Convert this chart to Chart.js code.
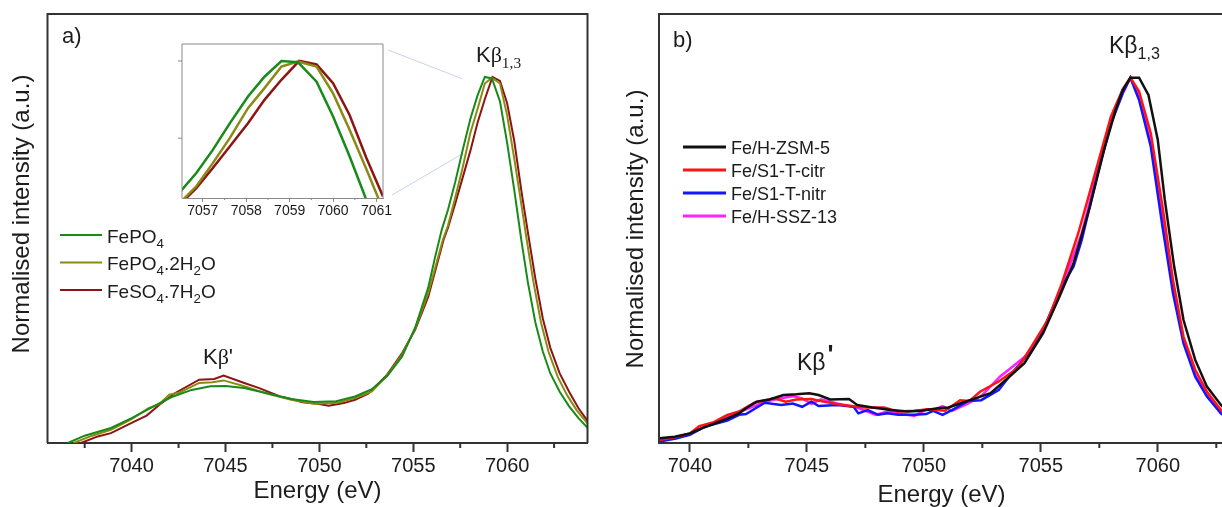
<!DOCTYPE html>
<html>
<head>
<meta charset="utf-8">
<script src="https://cdn.jsdelivr.net/npm/chart.js@4.4.0/dist/chart.umd.min.js"></script>
<style>
html, body { margin: 0; padding: 0; background: #fff; overflow: hidden; width: 1222px; height: 507px; }
canvas { position: absolute; }
#chartA { left: 0; top: 0; }
#inset { left: 150px; top: 30px; }
#chartB { left: 600px; top: 0; }
</style>
</head>
<body>
<canvas id="chartA" width="600" height="507"></canvas>
<canvas id="chartB" width="640" height="507"></canvas>
<canvas id="inset" width="250" height="200"></canvas>
<script>
// panel a: reference compounds
var namesA = ['FePO_4', 'FePO_4.2H_2O', 'FeSO_4.7H_2O'];
var colorsA = ['#178a17', '#8a8a14', '#8e1414'];

var fepo4E = [7036.6, 7037.5, 7038.9, 7040.0, 7041.1, 7042.1, 7043.2, 7044.2, 7045.0, 7046.0, 7047.2, 7048.5, 7049.7, 7050.9, 7051.9, 7052.8, 7053.6, 7054.4, 7055.1, 7055.8, 7056.15, 7056.52, 7056.85, 7057.23, 7057.62, 7058.04, 7058.42, 7058.81, 7059.19, 7059.62, 7060.0, 7060.38, 7060.75, 7061.1, 7061.5, 7061.9, 7062.3, 7062.8, 7063.3, 7063.8, 7064.3];
var fepo4I = [0.0, 0.02, 0.041, 0.068, 0.098, 0.125, 0.145, 0.155, 0.156, 0.15, 0.136, 0.12, 0.112, 0.114, 0.127, 0.147, 0.182, 0.236, 0.315, 0.425, 0.505, 0.583, 0.637, 0.712, 0.798, 0.885, 0.949, 1.0, 0.996, 0.933, 0.82, 0.691, 0.556, 0.44, 0.33, 0.25, 0.19, 0.14, 0.1, 0.068, 0.041];

var fepo4hE = [7036.9, 7037.9, 7038.9, 7040.0, 7040.9, 7041.5, 7042.0, 7042.55, 7043.6, 7044.3, 7044.9, 7046.0, 7047.2, 7048.5, 7049.7, 7050.9, 7051.9, 7052.8, 7053.6, 7054.4, 7055.1, 7055.8, 7056.58, 7056.85, 7057.23, 7057.62, 7058.04, 7058.42, 7058.81, 7059.19, 7059.62, 7060.0, 7060.38, 7060.77, 7061.04, 7061.4, 7061.8, 7062.2, 7062.7, 7063.2, 7063.7, 7064.3];
var fepo4hI = [0.0, 0.02, 0.036, 0.065, 0.095, 0.107, 0.132, 0.138, 0.164, 0.166, 0.171, 0.155, 0.135, 0.118, 0.107, 0.109, 0.123, 0.141, 0.184, 0.241, 0.312, 0.41, 0.556, 0.594, 0.669, 0.75, 0.847, 0.912, 0.982, 0.998, 0.982, 0.895, 0.777, 0.648, 0.556, 0.44, 0.33, 0.25, 0.18, 0.13, 0.09, 0.052];

var feso4E = [7037.3, 7038.2, 7038.9, 7040.0, 7040.8, 7041.5, 7042.3, 7043.6, 7044.4, 7044.9, 7046.0, 7046.8, 7047.9, 7048.5, 7049.1, 7049.9, 7050.5, 7051.3, 7051.9, 7052.6, 7053.6, 7054.4, 7055.1, 7055.8, 7056.62, 7056.85, 7057.23, 7057.62, 7058.04, 7058.42, 7058.81, 7059.22, 7059.62, 7060.0, 7060.38, 7060.77, 7061.15, 7061.5, 7061.9, 7062.3, 7062.8, 7063.3, 7063.8, 7064.3];
var feso4I = [0.0, 0.018, 0.027, 0.055, 0.075, 0.105, 0.136, 0.173, 0.175, 0.184, 0.164, 0.15, 0.127, 0.12, 0.111, 0.107, 0.102, 0.109, 0.118, 0.135, 0.186, 0.245, 0.309, 0.4, 0.556, 0.588, 0.653, 0.723, 0.798, 0.874, 0.939, 1.0, 0.989, 0.928, 0.825, 0.685, 0.561, 0.45, 0.34, 0.26, 0.19, 0.14, 0.095, 0.059];

// panel b: zeolite samples
var namesB = ['Fe/H-ZSM-5', 'Fe/S1-T-citr', 'Fe/S1-T-nitr', 'Fe/H-SSZ-13'];
var colorsB = ['#111111', '#ff1414', '#1414ff', '#ff22ff'];

var zsmE = [7038.7, 7039.35, 7040.0, 7040.5, 7041.1, 7041.6, 7042.1, 7042.4, 7042.85, 7043.4, 7044.0, 7044.55, 7045.1, 7045.5, 7046.0, 7046.8, 7047.15, 7047.8, 7048.6, 7049.3, 7049.9, 7050.6, 7051.05, 7051.55, 7052.2, 7052.85, 7053.5, 7054.3, 7055.1, 7055.8, 7056.4, 7057.1, 7057.7, 7058.2, 7058.5, 7058.83, 7059.2, 7059.6, 7060.0, 7060.3, 7060.7, 7061.1, 7061.6, 7062.1, 7062.7, 7063.0];
var zsmI = [0.013, 0.017, 0.026, 0.04, 0.054, 0.067, 0.081, 0.095, 0.113, 0.119, 0.131, 0.133, 0.136, 0.131, 0.119, 0.12, 0.104, 0.097, 0.09, 0.086, 0.088, 0.095, 0.097, 0.108, 0.122, 0.136, 0.172, 0.218, 0.3, 0.4, 0.491, 0.646, 0.8, 0.91, 0.964, 0.998, 0.998, 0.951, 0.828, 0.664, 0.482, 0.336, 0.227, 0.154, 0.104, 0.085];

var citrE = [7038.7, 7039.4, 7040.0, 7040.4, 7040.98, 7041.6, 7042.1, 7042.76, 7043.6, 7044.1, 7044.55, 7045.2, 7045.7, 7046.5, 7047.5, 7048.3, 7048.9, 7049.6, 7050.2, 7050.9, 7051.55, 7051.95, 7052.4, 7053.2, 7054.0, 7054.6, 7055.3, 7055.9, 7056.6, 7057.4, 7058.0, 7058.5, 7058.83, 7059.2, 7059.7, 7060.2, 7060.65, 7061.1, 7061.6, 7062.1, 7062.7, 7063.0];
var citrI = [0.008, 0.016, 0.026, 0.046, 0.056, 0.077, 0.086, 0.11, 0.122, 0.113, 0.119, 0.12, 0.113, 0.104, 0.097, 0.097, 0.086, 0.088, 0.092, 0.088, 0.117, 0.115, 0.14, 0.168, 0.204, 0.263, 0.336, 0.436, 0.573, 0.755, 0.892, 0.966, 0.998, 0.96, 0.846, 0.646, 0.445, 0.29, 0.2, 0.14, 0.09, 0.075];

var nitrE = [7038.7, 7039.4, 7040.0, 7040.65, 7041.6, 7042.1, 7042.4, 7043.2, 7043.9, 7044.4, 7044.8, 7045.2, 7045.5, 7046.3, 7047.0, 7047.2, 7047.6, 7048.05, 7048.45, 7048.9, 7049.6, 7050.1, 7050.4, 7050.8, 7051.2, 7051.9, 7052.45, 7053.2, 7053.7, 7054.3, 7055.1, 7055.9, 7056.4, 7056.75, 7057.4, 7058.0, 7058.5, 7058.83, 7059.2, 7059.7, 7060.2, 7060.65, 7061.1, 7061.6, 7062.1, 7062.7, 7063.0];
var nitrI = [0.004, 0.012, 0.022, 0.045, 0.061, 0.077, 0.079, 0.11, 0.104, 0.108, 0.099, 0.113, 0.101, 0.104, 0.099, 0.081, 0.09, 0.077, 0.081, 0.077, 0.077, 0.079, 0.088, 0.077, 0.09, 0.115, 0.117, 0.145, 0.186, 0.231, 0.309, 0.427, 0.482, 0.555, 0.728, 0.873, 0.955, 0.998, 0.937, 0.81, 0.591, 0.409, 0.272, 0.181, 0.127, 0.081, 0.068];

var sszE = [7038.7, 7039.4, 7040.0, 7041.0, 7041.8, 7042.6, 7043.25, 7043.9, 7044.4, 7044.8, 7045.2, 7045.6, 7046.3, 7047.15, 7047.95, 7048.45, 7048.9, 7049.6, 7050.1, 7050.4, 7050.8, 7051.2, 7051.9, 7052.5, 7053.25, 7053.8, 7054.5, 7055.1, 7055.9, 7056.75, 7057.4, 7058.0, 7058.5, 7058.83, 7059.2, 7059.7, 7060.2, 7060.65, 7061.1, 7061.6, 7062.1, 7062.7, 7063.0];
var sszI = [0.008, 0.015, 0.025, 0.054, 0.077, 0.097, 0.113, 0.122, 0.128, 0.122, 0.107, 0.119, 0.108, 0.097, 0.077, 0.086, 0.081, 0.074, 0.092, 0.09, 0.101, 0.088, 0.108, 0.131, 0.181, 0.209, 0.245, 0.309, 0.427, 0.573, 0.737, 0.882, 0.96, 0.998, 0.946, 0.819, 0.61, 0.427, 0.281, 0.186, 0.131, 0.081, 0.068];

// axis ticks
var ticksMain = [7040, 7045, 7050, 7055, 7060];
var ticksInset = [7057, 7058, 7059, 7060, 7061];
var ticksInsetY = [0.75, 1.0];

var SANS = '"Liberation Sans", Arial, sans-serif';
var SERIF = '"Liberation Serif", "Times New Roman", serif';
var TEXT = '#1c1c1c';

Chart.defaults.font.family = SANS;
Chart.defaults.color = TEXT;
Chart.defaults.animation = false;

function points(xs, ys) {
    return xs.map(function (x, i) { return {x: x, y: ys[i]}; });
}

//turns 'FePO_4' into parts with subscripts
function parseName(s) {
    var parts = [];
    var buf = '';
    for (var i = 0; i < s.length; i++) {
        if (s[i] === '_') {
            if (buf) parts.push([buf, '']);
            buf = '';
            parts.push([s[i + 1], 'sub']);
            i++;
        } else {
            buf += s[i];
        }
    }
    if (buf) parts.push([buf, '']);
    return parts;
}

function drawRich(ctx, x, y, size, parts) {
    var cx = x;
    ctx.textAlign = 'left';
    ctx.textBaseline = 'alphabetic';
    ctx.fillStyle = TEXT;
    parts.forEach(function (p) {
        var fs = size, dy = 0, dx = 0, fam = SANS;
        if (p[1].indexOf('serif') >= 0) fam = SERIF;
        if (p[1].indexOf('sub') >= 0) { fs = size * 0.7; dy = size * 0.28; }
        if (p[1] === 'sup') { fs = size * 1.1; dy = -size * 0.3; dx = 2; }
        ctx.font = (p[1] === 'sup' ? 'bold ' : '') + fs + 'px ' + fam;
        ctx.fillText(p[0], cx + dx, y + dy);
        cx += ctx.measureText(p[0]).width + dx;
    });
}

// frame, minor ticks, labels and legend, all in one inline plugin
function makeDecor(cfg) {
    return {
        id: 'decor',
        beforeDatasetsDraw: function (chart) {
            if (!cfg.connect) return;
            var ctx = chart.ctx, xs = chart.scales.x, ys = chart.scales.y;
            ctx.save();
            ctx.strokeStyle = '#c6d2ef';
            ctx.lineWidth = 1;
            cfg.connect.forEach(function (c) {
                ctx.beginPath();
                ctx.moveTo(c.from[0], c.from[1]);
                ctx.lineTo(xs.getPixelForValue(c.e), ys.getPixelForValue(c.i));
                ctx.stroke();
            });
            ctx.restore();
        },
        afterDraw: function (chart) {
            var ctx = chart.ctx, a = chart.chartArea, xs = chart.scales.x, ys = chart.scales.y;
            ctx.save();
            ctx.strokeStyle = cfg.frameColor;
            ctx.lineWidth = cfg.frameWidth;
            ctx.beginPath();
            ctx.moveTo(a.left, a.bottom);
            ctx.lineTo(a.left, a.top);
            ctx.lineTo(a.right, a.top);
            ctx.lineTo(a.right, a.bottom);
            ctx.stroke();

            // minor ticks on x
            var v = Math.ceil(xs.min / cfg.minorStep) * cfg.minorStep;
            ctx.beginPath();
            for (; v <= xs.max; v += cfg.minorStep) {
                if (ticksMain.concat(ticksInset).indexOf(Math.round(v * 100) / 100) >= 0) continue;
                var px = xs.getPixelForValue(v);
                ctx.moveTo(px, a.bottom);
                ctx.lineTo(px, a.bottom + cfg.minorLen);
            }
            ctx.stroke();

            // y ticks, pointing outwards
            if (cfg.yTicks) {
                ctx.beginPath();
                cfg.yTicks.forEach(function (t) {
                    var py = ys.getPixelForValue(t);
                    ctx.moveTo(a.left, py);
                    ctx.lineTo(a.left - cfg.yTickLen, py);
                });
                ctx.stroke();
            }

            // rotated y title
            if (cfg.yTitle) {
                ctx.save();
                ctx.translate(cfg.yTitle.x, cfg.yTitle.y);
                ctx.rotate(-Math.PI / 2);
                ctx.font = '24px ' + SANS;
                ctx.fillStyle = TEXT;
                ctx.textAlign = 'center';
                ctx.textBaseline = 'middle';
                ctx.fillText(cfg.yTitle.text, 0, 0);
                ctx.restore();
            }

            (cfg.labels || []).forEach(function (l) {
                drawRich(ctx, l.x, l.y, l.size, l.parts);
            });

            // legend
            if (cfg.legend) {
                var L = cfg.legend;
                chart.data.datasets.forEach(function (ds, i) {
                    var y = L.y + i * L.gap;
                    ctx.strokeStyle = ds.borderColor;
                    ctx.lineWidth = L.lineWidth;
                    ctx.beginPath();
                    ctx.moveTo(L.x, y);
                    ctx.lineTo(L.x + L.len, y);
                    ctx.stroke();
                    drawRich(ctx, L.x + L.len + 5, y + L.size * 0.4, L.size, parseName(L.names[i]));
                });
            }
            ctx.restore();
        }
    };
}

function xAxis(min, max, ticks, opt) {
    return {
        type: 'linear',
        min: min,
        max: max,
        afterBuildTicks: function (scale) {
            scale.ticks = ticks.map(function (t) { return {value: t}; });
        },
        afterFit: function (scale) { scale.height = opt.height; },
        ticks: {
            font: {size: opt.tickSize},
            color: TEXT,
            padding: opt.tickPad,
            maxRotation: 0,
            autoSkip: false,
            callback: function (v) { return String(v); }
        },
        grid: {
            drawOnChartArea: false,
            drawTicks: true,
            tickLength: opt.tickLen,
            tickWidth: opt.lineWidth,
            color: opt.lineColor
        },
        border: {display: true, color: opt.lineColor, width: opt.lineWidth},
        title: opt.title ? {
            display: true,
            text: opt.title,
            font: {size: 24, lineHeight: 1},
            color: TEXT,
            padding: {top: 0, bottom: opt.titlePad}
        } : {display: false}
    };
}

function makeDatasets(list, colors, width) {
    return list.map(function (s, i) {
        return {
            data: points(s[0], s[1]),
            borderColor: colors[i],
            borderWidth: width,
            pointRadius: 0,
            tension: 0,
            fill: false
        };
    });
}

var seriesA = [[fepo4E, fepo4I], [fepo4hE, fepo4hI], [feso4E, feso4I]];
var seriesB = [[zsmE, zsmI], [citrE, citrI], [nitrE, nitrI], [sszE, sszI]];

// panel a
new Chart(document.getElementById('chartA'), {
    type: 'line',
    data: {datasets: makeDatasets(seriesA, colorsA, 2)},
    options: {
        responsive: false,
        devicePixelRatio: 1,
        layout: {padding: {left: 47.5, top: 14, right: 12.5, bottom: 0}},
        plugins: {legend: {display: false}, tooltip: {enabled: false}},
        scales: {
            x: xAxis(7035.52, 7064.28, ticksMain, {height: 64, tickSize: 20, tickPad: 2, tickLen: 9, lineWidth: 2, lineColor: '#333', title: 'Energy (eV)', titlePad: 4}),
            y: {display: false, min: 0, max: 1.172}
        }
    },
    plugins: [makeDecor({
        frameColor: '#333', frameWidth: 2, minorStep: 2.5, minorLen: 5,
        yTitle: {text: 'Normalised intensity (a.u.)', x: 22, y: 214},
        labels: [
            {x: 62, y: 43, size: 22, parts: [['a)', '']]},
            {x: 476, y: 62, size: 22, parts: [['K', ''], ['\u03b2', 'serif'], ['1,3', 'subserif']]},
            {x: 203, y: 364, size: 22, parts: [['K', ''], ['\u03b2', 'serif'], ["'", '']]}
        ],
        legend: {names: namesA, x: 60, y: 235, gap: 27.5, len: 42, size: 19, lineWidth: 2},
        connect: [
            {from: [388, 50], e: 7057.62, i: 0.995},
            {from: [392, 195], e: 7057.62, i: 0.79}
        ]
    })]
});

// inset of panel a, same data zoomed on the main peak
new Chart(document.getElementById('inset'), {
    type: 'line',
    data: {datasets: makeDatasets(seriesA, colorsA, 2.5)},
    options: {
        responsive: false,
        devicePixelRatio: 1,
        layout: {padding: {left: 32, top: 14, right: 17, bottom: 0}},
        plugins: {legend: {display: false}, tooltip: {enabled: false}},
        scales: {
            x: xAxis(7056.52, 7061.15, ticksInset, {height: 32, tickSize: 14, tickPad: 1, tickLen: 4, lineWidth: 1, lineColor: '#8a8a8a'}),
            y: {display: false, min: 0.556, max: 1.055}
        }
    },
    plugins: [makeDecor({
        frameColor: '#8a8a8a', frameWidth: 1, minorStep: 0.5, minorLen: 2,
        yTicks: ticksInsetY, yTickLen: 4
    })]
});

// panel b
new Chart(document.getElementById('chartB'), {
    type: 'line',
    data: {datasets: makeDatasets(seriesB, colorsB, 2.5)},
    options: {
        responsive: false,
        devicePixelRatio: 1,
        layout: {padding: {left: 59, top: 14, right: 16, bottom: 0}},
        plugins: {legend: {display: false}, tooltip: {enabled: false}},
        scales: {
            x: xAxis(7038.68, 7062.83, ticksMain, {height: 64, tickSize: 20, tickPad: 2, tickLen: 9, lineWidth: 2, lineColor: '#333', title: 'Energy (eV)', titlePad: 0}),
            y: {display: false, min: 0, max: 1.172}
        }
    },
    plugins: [makeDecor({
        frameColor: '#333', frameWidth: 2, minorStep: 2.5, minorLen: 5,
        yTitle: {text: 'Normalised intensity (a.u.)', x: 36, y: 229},
        labels: [
            {x: 73, y: 47, size: 22, parts: [['b)', '']]},
            {x: 509, y: 53, size: 23, parts: [['K', ''], ['\u03b2', ''], ['1,3', 'sub']]},
            {x: 197, y: 370, size: 23, parts: [['K', ''], ['\u03b2', ''], ["'", 'sup']]}
        ],
        legend: {names: namesB, x: 83, y: 147, gap: 23, len: 43, size: 18, lineWidth: 3}
    })]
});
</script>
</body>
</html>
